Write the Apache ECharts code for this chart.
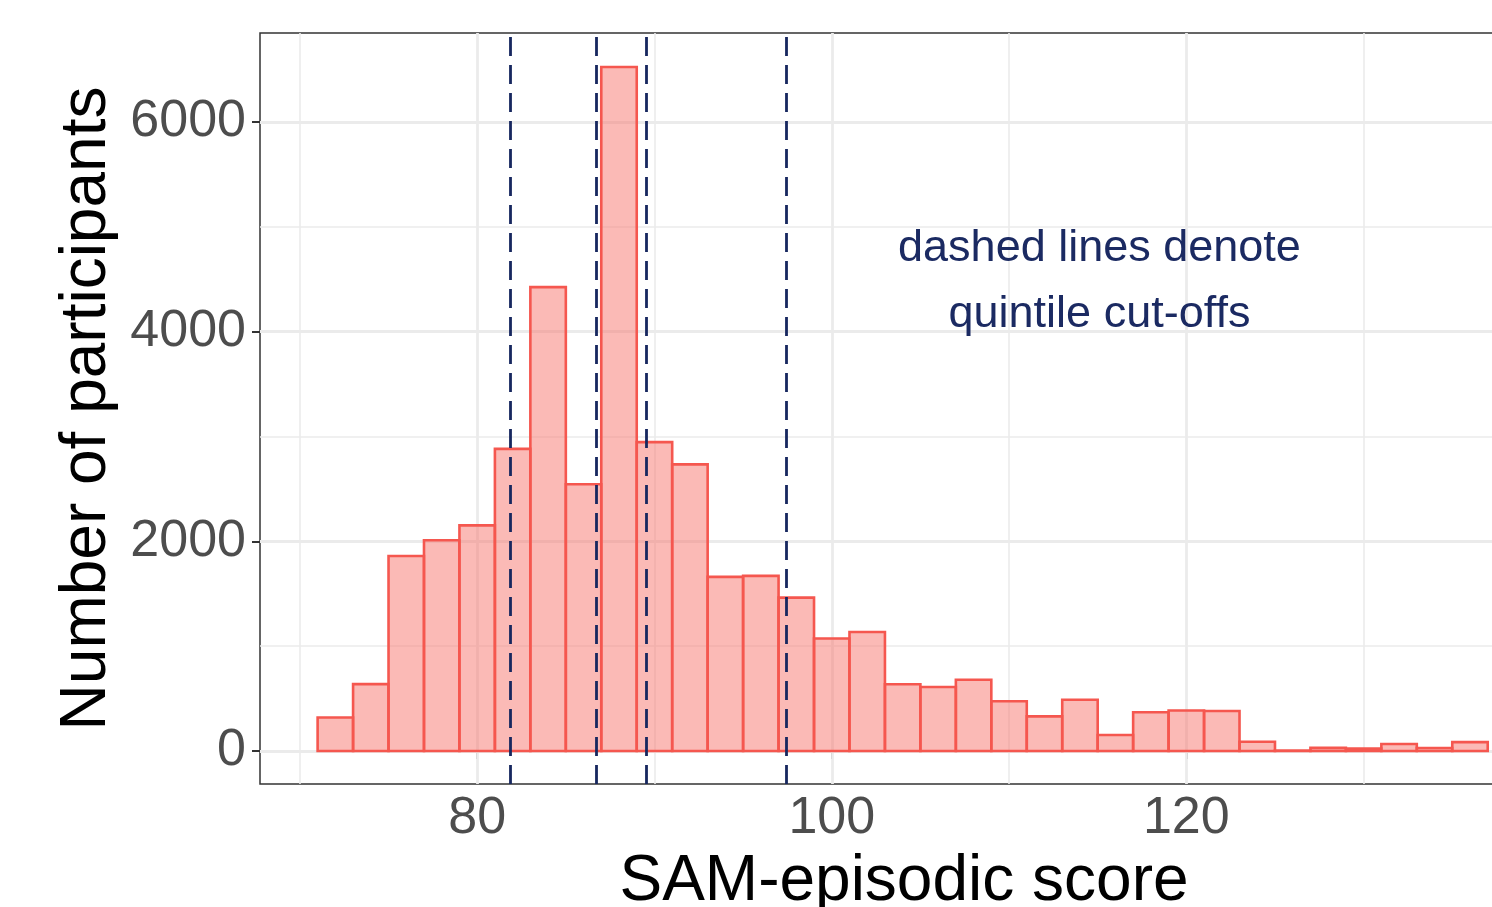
<!DOCTYPE html>
<html>
<head>
<meta charset="utf-8">
<script src="https://cdn.jsdelivr.net/npm/echarts@6/dist/echarts.min.js"></script>
<style>
  html, body { margin: 0; padding: 0; background: #fff; }
  #chart { width: 1492px; height: 907px; }
</style>
</head>
<body>
<div id="chart"></div>
<script>
// histogram bins (score, width 2) and counts
const binStarts = [71, 73, 75, 77, 79, 81, 83, 85, 87, 89, 91, 93, 95, 97, 99, 101, 103,
                   105, 107, 109, 111, 113, 115, 117, 119, 121, 123, 125, 127, 129, 131, 133, 135];
const counts = [320, 638, 1860, 2010, 2152, 2882, 4425, 2545, 6524, 2946, 2734, 1661, 1670, 1463,
                1073, 1135, 637, 610, 680, 475, 330, 488, 153, 370, 386, 382, 88, 5, 30, 24, 67, 29, 84];
const binWidth = 2;

// quintile cut-offs (dashed lines)
const cutOffs = [81.88, 86.74, 89.51, 97.45];

// axis ticks and grid
const xTicks = [80, 100, 120];
const xMinor = [70, 90, 110, 130];
const yTicks = [0, 2000, 4000, 6000];
const yMinor = [1000, 3000, 5000];

const noteText = 'dashed lines denote\nquintile cut-offs';
const notePos = [115.1, 4480];

window.onload = init;

function init() {
    let chart = echarts.init(document.getElementById('chart'));

    let bars = binStarts.map((b, i) => [b, b + binWidth, counts[i]]);

    let gridLines = [];
    xMinor.forEach(v => gridLines.push({ xAxis: v, lineStyle: { width: 1.6 } }));
    xTicks.forEach(v => gridLines.push({ xAxis: v, lineStyle: { width: 2.8 } }));
    yMinor.forEach(v => gridLines.push({ yAxis: v, lineStyle: { width: 1.6 } }));
    yTicks.forEach(v => gridLines.push({ yAxis: v, lineStyle: { width: 2.8 } }));

    let font = '"Liberation Sans", Arial, sans-serif';

    let options = {
        animation: false,
        grid: {
            left: 260, right: -56, top: 33, bottom: 123,
            outerBoundsMode: 'none',
            containLabel: false,
            show: true, borderColor: '#333333', borderWidth: 1.5,
            backgroundColor: '#fff'
        },
        xAxis: {
            type: 'value',
            min: 67.75,
            max: 140.4,
            name: 'SAM-episodic score',
            nameLocation: 'middle',
            nameGap: 60,
            nameTextStyle: { fontSize: 64, color: '#000', fontFamily: font },
            axisLine: { show: false },
            axisTick: { show: true, length: 8, customValues: xTicks, lineStyle: { color: '#333', width: 2 } },
            axisLabel: { customValues: xTicks, fontSize: 52, color: '#4d4d4d', margin: 9, fontFamily: font,
                         formatter: v => String(v) },
            splitLine: { show: false }
        },
        yAxis: {
            type: 'value',
            min: -315,
            max: 6849,
            name: 'Number of participants',
            nameLocation: 'middle',
            nameGap: 138,
            nameTextStyle: { fontSize: 64, color: '#000', fontFamily: font },
            axisLine: { show: false },
            axisTick: { show: true, length: 8, customValues: yTicks, lineStyle: { color: '#333', width: 2 } },
            axisLabel: { customValues: yTicks, fontSize: 52, color: '#4d4d4d', margin: 14, fontFamily: font,
                         formatter: v => String(v) },
            splitLine: { show: false }
        },
        series: [
            {
                // panel grid lines, kept under the bars
                type: 'line',
                data: [],
                z: 1,
                silent: true,
                markLine: {
                    z: 1,
                    silent: true,
                    symbol: ['none', 'none'],
                    label: { show: false },
                    lineStyle: { color: '#ebebeb', type: 'solid' },
                    data: gridLines
                }
            },
            {
                type: 'custom',
                z: 2,
                data: bars,
                encode: { x: [0, 1], y: 2 },
                renderItem: function (params, api) {
                    let p0 = api.coord([api.value(0), 0]);
                    let p1 = api.coord([api.value(1), api.value(2)]);
                    return {
                        type: 'rect',
                        shape: { x: p0[0], y: p1[1], width: p1[0] - p0[0], height: p0[1] - p1[1] },
                        style: { fill: 'rgba(248,118,109,0.5)', stroke: '#f5574f', lineWidth: 2.6 }
                    };
                }
            },
            {
                // cut-off lines and the note
                type: 'line',
                data: [],
                z: 3,
                markLine: {
                    z: 6,
                    silent: true,
                    symbol: ['none', 'none'],
                    label: { show: false },
                    lineStyle: { color: '#17275f', type: [19, 9], width: 2.8 },
                    data: cutOffs.map(v => ({ xAxis: v }))
                },
                markPoint: {
                    silent: true,
                    symbol: 'circle',
                    symbolSize: 0,
                    data: [{ coord: notePos }],
                    label: {
                        show: true,
                        position: 'inside',
                        formatter: noteText,
                        fontSize: 45,
                        lineHeight: 66,
                        align: 'center',
                        color: '#1b2a62',
                        fontFamily: font
                    }
                }
            }
        ]
    };

    chart.setOption(options);
}
</script>
</body>
</html>
